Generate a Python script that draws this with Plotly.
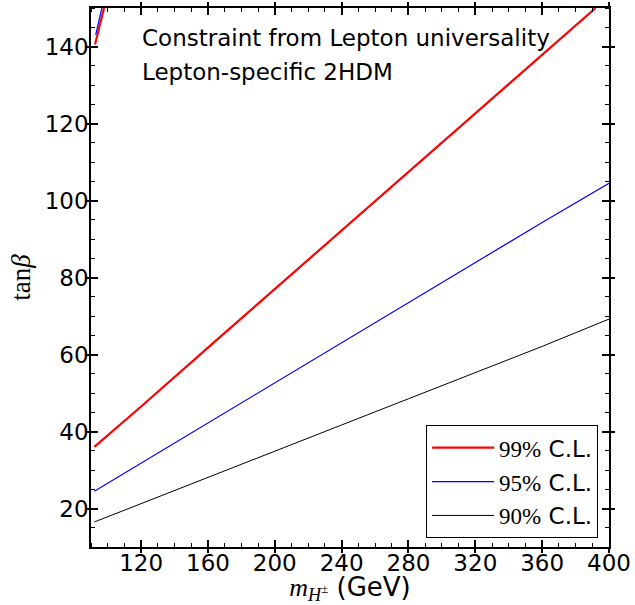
import plotly.graph_objects as go

# Lower branch of the constraint contours (m_H± in GeV, tanβ)
m_99 = [92, 120, 160, 200, 240, 280, 320, 360, 392]
tb_99 = [36.0, 46.5, 61.8, 77.0, 92.3, 107.5, 122.8, 138.0, 150.0]
m_95 = [92, 120, 160, 200, 240, 280, 320, 360, 400]
tb_95 = [24.5, 31.8, 42.3, 52.7, 63.1, 73.6, 84.0, 94.3, 104.5]
m_90 = [92, 120, 160, 200, 240, 280, 320, 360, 400]
tb_90 = [16.5, 21.3, 28.1, 34.9, 41.7, 48.5, 55.3, 62.1, 69.2]

# Upper branch (top-left corner)
m_99_up = [92.4, 97.8]
tb_99_up = [140.5, 150.0]
m_95_up = [92.8, 96.5]
tb_95_up = [143.0, 150.0]

labels = ["99%", "95%", "90%"]
colors = ["#ff0000", "#0000ff", "#000000"]
widths = [2.2, 1.2, 1.0]

x_ticks = [120, 160, 200, 240, 280, 320, 360, 400]
y_ticks = [20, 40, 60, 80, 100, 120, 140]

SERIF = "Liberation Serif"
SANS = "DejaVu Sans"
FS = 23

fig = go.Figure()
series = [(m_99, tb_99), (m_95, tb_95), (m_90, tb_90)]
for i, ((xs, ys), lbl, c, w) in enumerate(zip(series, labels, colors, widths)):
    name = f'<span style="font-family:{SERIF}">{lbl}</span> C.L.'
    fig.add_trace(go.Scatter(x=xs, y=ys, mode="lines", name=name,
                             legendgroup=f"g{i}",
                             line=dict(color=c, width=w)))
fig.add_trace(go.Scatter(x=m_99_up, y=tb_99_up, mode="lines", showlegend=False,
                         line=dict(color=colors[0], width=widths[0])))
fig.add_trace(go.Scatter(x=m_95_up, y=tb_95_up, mode="lines", showlegend=False,
                         line=dict(color=colors[1], width=widths[1])))
# dummy traces on overlay axes so they render
fig.add_trace(go.Scatter(x=[None], y=[None], xaxis="x2", yaxis="y2", showlegend=False))
fig.add_trace(go.Scatter(x=[None], y=[None], xaxis="x3", yaxis="y3", showlegend=False))

common = dict(showgrid=False, zeroline=False, showline=True, linecolor="black",
              linewidth=1.5, mirror="allticks", tickcolor="black", tickwidth=1.5,
              automargin=False)

fig.update_layout(
    width=635, height=605,
    margin=dict(l=91, r=26, t=8, b=58),
    plot_bgcolor="white", paper_bgcolor="white",
    font=dict(family=SANS, size=FS, color="black"),
    xaxis=dict(range=[90, 400], tickvals=x_ticks, ticks="", ticklabelstandoff=-5,
               tickfont=dict(family=SANS, size=FS),
               title=dict(text=f'<span style="font-family:{SERIF}"><i>m</i><sub><i>H</i><sup>±</sup></sub></span> (GeV)',
                          font=dict(family=SANS, size=26), standoff=2),
               minor=dict(dtick=10, tick0=0, ticks="inside", ticklen=4,
                          tickcolor="black", tickwidth=1.2),
               **common),
    yaxis=dict(range=[10, 150], tickvals=y_ticks, ticks="", ticklabelstandoff=-4,
               tickfont=dict(family=SANS, size=FS),
               title=dict(text="tan<i>β</i>",
                          font=dict(family=SERIF, size=27), standoff=6),
               minor=dict(dtick=5, tick0=0, ticks="inside", ticklen=4,
                          tickcolor="black", tickwidth=1.2),
               **common),
    xaxis2=dict(overlaying="x", matches="x", range=[90, 400], tickvals=x_ticks,
                ticks="inside", ticklen=7, showticklabels=False, **common),
    yaxis2=dict(overlaying="y", matches="y", range=[10, 150], tickvals=y_ticks,
                ticks="inside", ticklen=7, showticklabels=False, **common),
    xaxis3=dict(overlaying="x", matches="x", range=[90, 400], tickvals=x_ticks,
                ticks="outside", ticklen=4, showticklabels=False, **common),
    yaxis3=dict(overlaying="y", matches="y", range=[10, 150], tickvals=y_ticks,
                ticks="outside", ticklen=4, showticklabels=False, **common),
    legend=dict(x=0.979, y=0.226, xanchor="right", yanchor="top",
                bgcolor="white", bordercolor="black", borderwidth=1,
                font=dict(family=SANS, size=23), itemwidth=62, tracegroupgap=1),
    annotations=[
        dict(text="Constraint from Lepton universality", xref="paper", yref="paper",
             x=0.095, y=0.944, xanchor="left", yanchor="middle", showarrow=False,
             font=dict(family=SANS, size=FS)),
        dict(text="Lepton-specific 2HDM", xref="paper", yref="paper",
             x=0.095, y=0.882, xanchor="left", yanchor="middle", showarrow=False,
             font=dict(family=SANS, size=FS)),
    ],
)

fig.write_html("out.html", config={"displayModeBar": False},
               post_script="document.body.style.margin='0px';")
